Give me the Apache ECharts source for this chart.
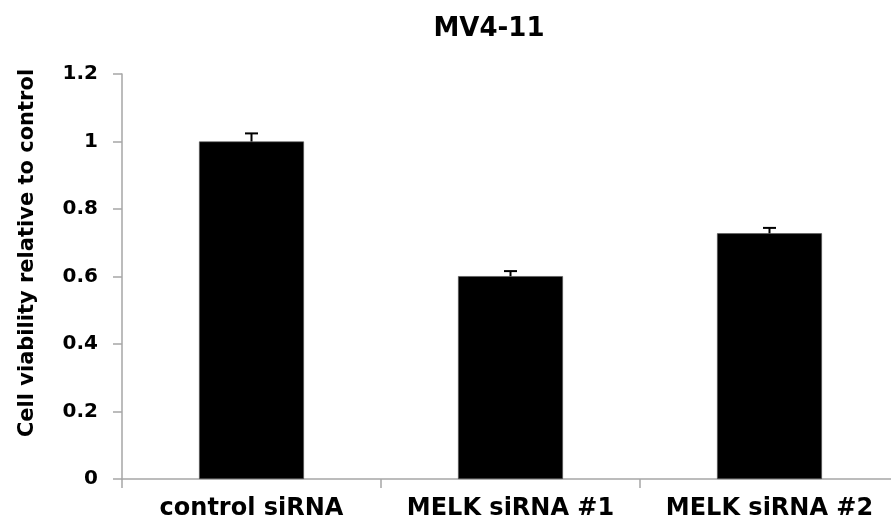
<!DOCTYPE html>
<html>
<head>
<meta charset="utf-8">
<script src="https://cdn.jsdelivr.net/npm/echarts@6/dist/echarts.min.js"></script>
<style>html,body{margin:0;padding:0;background:#fff}#c{width:891px;height:523px}</style>
</head>
<body>
<div id="c"></div>
<script>
const categories = ['control siRNA', 'MELK siRNA #1', 'MELK siRNA #2'];
const values = [1.0, 0.601, 0.728];
const errors = [0.024, 0.015, 0.016];
const yTickLabels = ['0', '0.2', '0.4', '0.6', '0.8', '1', '1.2'];

const FONT = 'DejaVu Sans';
const chart = echarts.init(document.getElementById('c'));
chart.setOption({
  animation: false,
  backgroundColor: '#ffffff',
  title: {
    text: 'MV4-11',
    left: 484,
    top: 11,
    textAlign: 'center',
    textStyle: { fontFamily: FONT, fontWeight: 'bold', fontSize: 26, color: '#000' }
  },
  grid: { left: 122, right: -8, top: 74, bottom: 44, outerBoundsMode: 'none', containLabel: false },
  xAxis: {
    type: 'category',
    data: categories,
    axisLine: { lineStyle: { color: '#a6a6a6', width: 1.5 } },
    axisTick: { show: true, interval: 0, length: 9, lineStyle: { color: '#a6a6a6', width: 1.5 } },
    axisLabel: { interval: 0, hideOverlap: false, margin: 18, fontFamily: FONT, fontWeight: 'bold', fontSize: 24, color: '#000' },
    splitLine: { show: false }
  },
  yAxis: {
    type: 'value',
    min: 0, max: 1.2, interval: 0.2,
    name: 'Cell viability relative to control',
    nameLocation: 'middle',
    nameGap: 84,
    nameRotate: 90,
    nameTextStyle: { fontFamily: FONT, fontWeight: 'bold', fontSize: 21, color: '#000', padding: [0, 0, 0, 47] },
    axisLine: { show: true, lineStyle: { color: '#a6a6a6', width: 1.5 } },
    axisTick: { show: true, length: 9, lineStyle: { color: '#a6a6a6', width: 1.5 } },
    axisLabel: {
      margin: 24, fontFamily: FONT, fontWeight: 'bold', fontSize: 20, color: '#000',
      formatter: function (v) { return yTickLabels[Math.round(v / 0.2)]; }
    },
    splitLine: { show: false }
  },
  series: [
    {
      type: 'bar',
      data: values,
      barWidth: '40.5%',
      itemStyle: { color: '#000', borderColor: '#555', borderWidth: 0.6 }
    },
    {
      type: 'custom',
      data: values.map((v, i) => [i, v, errors[i]]),
      renderItem: function (params, api) {
        const x = api.value(0);
        const top = api.coord([x, api.value(1) + api.value(2)]);
        const base = api.coord([x, api.value(1)]);
        const hw = 6.5;
        return {
          type: 'group',
          children: [
            { type: 'line', shape: { x1: top[0], y1: top[1], x2: base[0], y2: base[1] }, style: { stroke: '#000', lineWidth: 2 } },
            { type: 'line', shape: { x1: top[0] - hw, y1: top[1], x2: top[0] + hw, y2: top[1] }, style: { stroke: '#000', lineWidth: 2 } }
          ]
        };
      },
      z: 3
    }
  ]
});
</script>
</body>
</html>
